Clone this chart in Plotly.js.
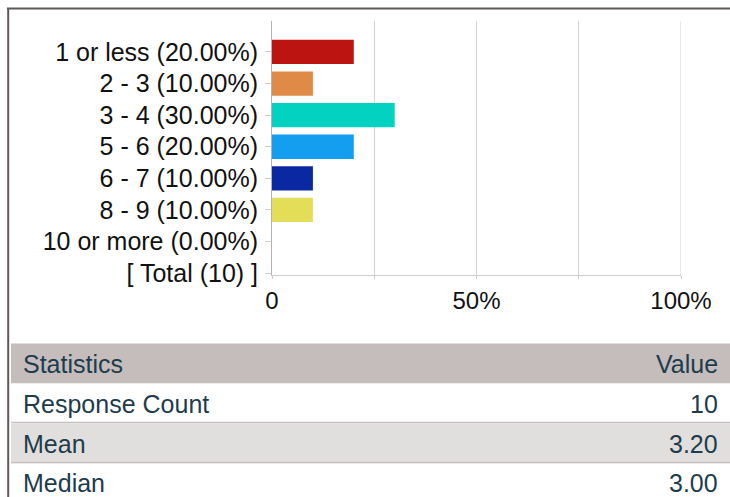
<!DOCTYPE html>
<html><head><meta charset="utf-8">
<script src="https://cdn.plot.ly/plotly-3.0.1.min.js"></script>
<style>html,body{margin:0;padding:0;background:#fff;overflow:hidden}#chart{width:730px;height:497px}</style>
</head><body><div id="chart"></div>
<script>
const categories = ['1 or less (20.00%)', '2 - 3 (10.00%)', '3 - 4 (30.00%)', '5 - 6 (20.00%)', '6 - 7 (10.00%)', '8 - 9 (10.00%)', '10 or more (0.00%)', '[ Total (10) ]'];
const percents = [20, 10, 30, 20, 10, 10, 0, null];
const barColors = ['#bb1411', '#e08a48', '#02d2bf', '#139ef0', '#0a28a2', '#e3dd58', '#999999', '#ffffff'];
const xTickVals = [0, 25, 50, 75, 100];
const xTickText = ['0', '', '50%', '', '100%'];
const statLabels = ['Statistics', 'Response Count', 'Mean', 'Median'];
const statValues = ['Value', '10', '3.20', '3.00'];

const W = 730, H = 497;
const M = {l: 272, r: 49, t: 21, b: 222};
const PW = W - M.l - M.r, PH = H - M.t - M.b;
const px = x => (x - M.l) / PW;
const py = y => (H - M.b - y) / PH;
const FONT = 'Liberation Sans, Arial, Helvetica, sans-serif';
const textColor = '#1e3c4c';

const shapes = [];
const annotations = [];
statLabels.forEach((lab, i) => {
  const top = 343.5 + 40 * i;
  const fill = i === 0 ? '#c4bdbc' : (i % 2 === 0 ? '#e1dfde' : '#ffffff');
  shapes.push({type: 'rect', xref: 'paper', yref: 'paper', x0: px(11), x1: px(731), y0: py(top), y1: py(top + 40), fillcolor: fill, line: {width: 0}, layer: 'below'});
  if (i === 1 || i === 2) {
    shapes.push({type: 'line', xref: 'paper', yref: 'paper', x0: px(11), x1: px(731), y0: py(top + 39), y1: py(top + 39), line: {color: '#c5bfbe', width: 1.7}});
  }
  annotations.push({xref: 'paper', yref: 'paper', x: px(21), y: py(top + 20), xanchor: 'left', yanchor: 'middle', text: lab, showarrow: false, font: {family: FONT, size: 25, color: textColor}});
  annotations.push({xref: 'paper', yref: 'paper', x: px(719.5), y: py(top + 20), xanchor: 'right', yanchor: 'middle', text: statValues[i], showarrow: false, font: {family: FONT, size: 25, color: textColor}});
});
// outer frame
shapes.push({type: 'line', xref: 'paper', yref: 'paper', x0: px(8.2), x1: px(8.2), y0: py(8), y1: py(500), line: {color: '#5f5857', width: 2}});
shapes.push({type: 'line', xref: 'paper', yref: 'paper', x0: px(7), x1: px(731), y0: py(8.5), y1: py(8.5), line: {color: '#5f5857', width: 2}});
// gridline at the right end of the value axis (Plotly hides grid at range edge)
shapes.push({type: 'line', xref: 'x', yref: 'paper', x0: xTickVals[xTickVals.length - 1], x1: xTickVals[xTickVals.length - 1], y0: py(277), y1: 1, line: {color: '#d2d2d2', width: 1}});

const trace = {
  type: 'bar', orientation: 'h',
  x: percents, y: categories,
  marker: {color: barColors, line: {width: 0}},
  width: 0.77,
  hoverinfo: 'none'
};

const layout = {
  width: W, height: H,
  margin: M,
  paper_bgcolor: '#ffffff', plot_bgcolor: '#ffffff',
  showlegend: false,
  font: {family: FONT, color: '#111111'},
  xaxis: {
    range: [0, 100], tickvals: xTickVals, ticktext: xTickText,
    showgrid: true, gridcolor: '#d2d2d2', gridwidth: 1,
    showline: true, linecolor: '#cccccc', linewidth: 1,
    ticks: 'outside', ticklen: 3, tickcolor: '#cccccc',
    zeroline: false, tickfont: {family: FONT, size: 24, color: '#111111'},
    ticklabelstandoff: 1, fixedrange: true
  },
  yaxis: {
    type: 'category', categoryorder: 'array', categoryarray: categories,
    range: [7.06, -0.98],
    showgrid: false, showline: true, linecolor: '#b3b3b3', linewidth: 1,
    ticks: 'outside', ticklen: 6, tickcolor: '#cccccc',
    zeroline: false, tickfont: {family: FONT, size: 25, color: '#111111'},
    ticklabelstandoff: 2, fixedrange: true
  },
  shapes: shapes,
  annotations: annotations
};

Plotly.newPlot('chart', [trace], layout, {displayModeBar: false, staticPlot: true});
</script>
</body></html>
